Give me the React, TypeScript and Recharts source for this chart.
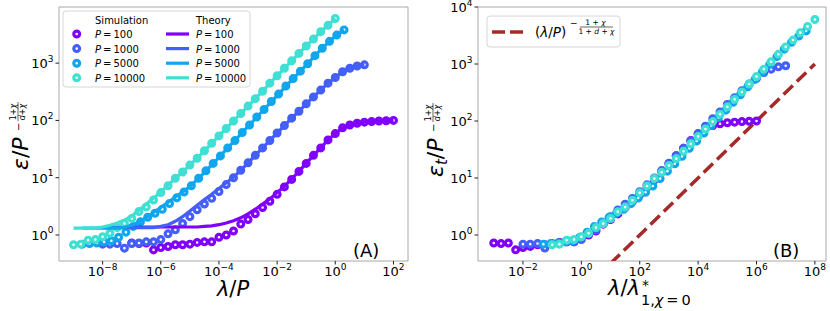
import { ComposedChart, Scatter, Line, XAxis, YAxis, ReferenceArea } from 'recharts';

const FONT = '"DejaVu Sans", sans-serif';

// shared ridge-parameter grid (lambda), 4 points per decade
const lambdaGrid = [
  1e-5, 1.778e-5, 3.162e-5, 5.623e-5, 1e-4, 1.778e-4, 3.162e-4, 5.623e-4,
  1e-3, 1.778e-3, 3.162e-3, 5.623e-3, 1e-2, 1.778e-2, 3.162e-2, 5.623e-2,
  0.1, 0.1778, 0.3162, 0.5623, 1, 1.778, 3.162, 5.623,
  10, 17.78, 31.62, 56.23, 100, 177.8, 316.2, 562.3,
  1000, 1778, 3162, 5623, 10000,
];

const sampleSizes = [100, 1000, 5000, 10000];
const sizeLabels = ['100', '1000', '5000', '10000'];
const colors = ['#8000ff', '#435ef9', '#10a6ee', '#3fe0d4'];

// log10 of the simulated error
const logSimP100 = [
  -0.14, -0.15, -0.14, -0.26, -0.22, -0.2, -0.17, -0.17, -0.16, -0.13, -0.12, -0.12,
  -0.04, 0.0, 0.07, 0.19, 0.27, 0.37, 0.48, 0.59, 0.71, 0.84, 0.97, 1.11,
  1.25, 1.39, 1.52, 1.66, 1.77, 1.87, 1.92, 1.95, 1.97, 1.98, 1.99, 1.995, 2.0,
];
const logSimP1000 = [
  -0.16, -0.16, -0.15, -0.23, -0.15, -0.14, -0.12, -0.12, -0.08, 0.02, 0.09, 0.2,
  0.32, 0.44, 0.54, 0.64, 0.76, 0.88, 1.0, 1.13, 1.26, 1.39, 1.52, 1.65,
  1.78, 1.91, 2.04, 2.16, 2.29, 2.41, 2.53, 2.65, 2.75, 2.85, 2.91, 2.95, 2.97,
];
const logSimP5000 = [
  -0.16, -0.15, -0.14, -0.12, -0.1, -0.04, 0.05, 0.15, 0.23, 0.31, 0.38, 0.45,
  0.55, 0.65, 0.75, 0.86, 0.99, 1.12, 1.25, 1.38, 1.52, 1.65, 1.79, 1.92,
  2.06, 2.19, 2.33, 2.46, 2.6, 2.73, 2.86, 2.99, 3.13, 3.26, 3.38, 3.49, 3.58,
];
const logSimP10000 = [
  -0.17, -0.16, -0.09, -0.08, -0.03, 0.03, 0.13, 0.2, 0.29, 0.41, 0.49, 0.61,
  0.74, 0.86, 0.99, 1.1, 1.22, 1.34, 1.47, 1.6, 1.73, 1.86, 1.99, 2.12,
  2.25, 2.38, 2.51, 2.65, 2.78, 2.91, 3.04, 3.17, 3.3, 3.42, 3.55, 3.66, 3.78,
];

// log10 of the theory curves
const logTheoryP100 = [
  0.14, 0.14, 0.14, 0.14, 0.14, 0.14, 0.14, 0.14, 0.14, 0.14, 0.15, 0.16,
  0.18, 0.21, 0.25, 0.3, 0.37, 0.45, 0.54, 0.63, 0.74, 0.85, 0.98, 1.11,
  1.25, 1.39, 1.52, 1.66, 1.77, 1.87, 1.92, 1.95, 1.97, 1.98, 1.99, 1.995, 2.0,
];
const logTheoryP1000 = [
  0.13, 0.13, 0.13, 0.13, 0.13, 0.13, 0.13, 0.13, 0.15, 0.18, 0.24, 0.32,
  0.42, 0.52, 0.62, 0.71, 0.81, 0.91, 1.01, 1.13, 1.26, 1.39, 1.52, 1.65,
  1.78, 1.91, 2.04, 2.16, 2.29, 2.41, 2.53, 2.65, 2.75, 2.85, 2.91, 2.95, 2.97,
];
const logTheoryP5000 = [
  0.12, 0.12, 0.12, 0.12, 0.12, 0.12, 0.14, 0.18, 0.24, 0.32, 0.41, 0.5,
  0.59, 0.68, 0.77, 0.87, 0.99, 1.12, 1.25, 1.38, 1.52, 1.65, 1.79, 1.92,
  2.06, 2.19, 2.33, 2.46, 2.6, 2.73, 2.86, 2.99, 3.13, 3.26, 3.38, 3.49, 3.58,
];
const logTheoryP10000 = [
  0.12, 0.12, 0.12, 0.12, 0.14, 0.17, 0.21, 0.26, 0.33, 0.43, 0.54, 0.64,
  0.75, 0.87, 0.99, 1.1, 1.22, 1.34, 1.47, 1.6, 1.73, 1.86, 1.99, 2.12,
  2.25, 2.38, 2.51, 2.65, 2.78, 2.91, 3.04, 3.17, 3.3, 3.42, 3.55, 3.66, 3.78,
];

const logSim = [logSimP100, logSimP1000, logSimP5000, logSimP10000];
const logTheory = [logTheoryP100, logTheoryP1000, logTheoryP5000, logTheoryP10000];

// power-law guide in panel B
const guideX = [10, 1e8];
const guideY = [0.3162, 1000];

const ticksXA = [1e-8, 1e-6, 1e-4, 1e-2, 1, 1e2];
const ticksYA = [1, 10, 100, 1000];
const ticksXB = [1e-2, 1, 1e2, 1e4, 1e6, 1e8];
const ticksYB = [1, 10, 100, 1000, 10000];

const domXA: [number, number] = [3.162e-10, 316.2];
const domYA: [number, number] = [0.3516, 9550];
const domXB: [number, number] = [2.884e-4, 2.4e8];
const domYB: [number, number] = [0.35, 10000];

const series = sampleSizes.map((p, i) => ({
  p,
  color: colors[i],
  simA: lambdaGrid.map((l, k) => ({ x: l / p, y: 10 ** logSim[i][k] })),
  theoryA: lambdaGrid.map((l, k) => ({ x: l / p, y: 10 ** logTheory[i][k] })),
  simB: lambdaGrid.map((l, k) => ({ x: l * p, y: 10 ** logSim[i][k] })),
}));

const guide = guideX.map((x, i) => ({ x, y: guideY[i] }));

function expText(v: number) {
  const e = Math.round(Math.log10(v));
  return e < 0 ? `\u2212${-e}` : `${e}`;
}

function XTick(props: any) {
  const { x, y, payload } = props;
  return (
    <text x={x} y={y + 9.5} textAnchor="middle" fontSize={13} fontFamily={FONT} fill="#000">
      10<tspan dy={-6.5} fontSize={9}>{expText(payload.value)}</tspan>
    </text>
  );
}

function YTick(props: any) {
  const { x, y, payload } = props;
  return (
    <text x={x} y={y + 5} textAnchor="end" fontSize={13} fontFamily={FONT} fill="#000">
      10<tspan dy={-6.5} fontSize={9}>{expText(payload.value)}</tspan>
    </text>
  );
}

function ring(color: string) {
  return (p: any) => (
    <circle cx={p.cx} cy={p.cy} r={2.9} fill="#fff" stroke={color} strokeWidth={3.2} />
  );
}

const noMarker = () => <g />;

function PanelA() {
  return (
    <ComposedChart width={415} height={311} margin={{ top: 7, right: 7, bottom: 0, left: 9 }}>
      <XAxis dataKey="x" type="number" scale="log" domain={domXA} allowDataOverflow
        ticks={ticksXA} interval={0} height={50} tickSize={3.5}
        axisLine={false} tickLine={{ stroke: '#222' }} tick={<XTick />} />
      <YAxis dataKey="y" type="number" scale="log" domain={domYA} allowDataOverflow
        ticks={ticksYA} interval={0} width={50} tickSize={3.5}
        axisLine={false} tickLine={{ stroke: '#222' }} tick={<YTick />} />
      <ReferenceArea x1={domXA[0]} x2={domXA[1]} y1={domYA[0]} y2={domYA[1]}
        fill="none" stroke="#a8a8a8" ifOverflow="visible" />
      {series.map((s) => (
        <Scatter key={`s${s.p}`} data={s.simA} dataKey="y" shape={ring(s.color)}
          isAnimationActive={false} />
      ))}
      {/* theory curves drawn on top of the rings */}
      {series.map((s) => (
        <Scatter key={`t${s.p}`} data={s.theoryA} dataKey="y" shape={noMarker}
          line={{ stroke: s.color, strokeWidth: 3.2, fill: 'none' }} lineType="joint"
          isAnimationActive={false} />
      ))}
    </ComposedChart>
  );
}

function PanelB() {
  return (
    <ComposedChart width={415} height={311} margin={{ top: 7, right: 4, bottom: 0, left: 13 }}>
      <XAxis dataKey="x" type="number" scale="log" domain={domXB} allowDataOverflow
        ticks={ticksXB} interval={0} height={50} tickSize={3.5}
        axisLine={false} tickLine={{ stroke: '#222' }} tick={<XTick />} />
      <YAxis dataKey="y" type="number" scale="log" domain={domYB} allowDataOverflow
        ticks={ticksYB} interval={0} width={50} tickSize={3.5}
        axisLine={false} tickLine={{ stroke: '#222' }} tick={<YTick />} />
      <ReferenceArea x1={domXB[0]} x2={domXB[1]} y1={domYB[0]} y2={domYB[1]}
        fill="none" stroke="#a8a8a8" ifOverflow="visible" />
      {series.map((s) => (
        <Scatter key={`b${s.p}`} data={s.simB} dataKey="y" shape={ring(s.color)}
          isAnimationActive={false} />
      ))}
      <Line data={guide} dataKey="y" type="linear" stroke="#a52a2a" strokeWidth={3.5}
        strokeDasharray="13 5.6" dot={false} isAnimationActive={false} />
    </ComposedChart>
  );
}

function Overlay() {
  const rows = [38, 52.6, 67.2, 81.8];
  return (
    <svg width={830} height={311} style={{ position: 'absolute', left: 0, top: 0, pointerEvents: 'none' }}
      fontFamily={FONT}>
      {/* legend A */}
      <rect x={63} y={11} width={187} height={76} rx={3} fill="#fff" fillOpacity={0.8} stroke="#d6d6d6" />
      <text x={95} y={24} fontSize={10}>Simulation</text>
      <text x={196} y={24} fontSize={10}>Theory</text>
      {rows.map((by, i) => (
        <g key={i}>
          <circle cx={76.7} cy={by - 4} r={2.9} fill="#fff" stroke={colors[i]} strokeWidth={3.2} />
          <text x={95} y={by} fontSize={10}>
            <tspan fontStyle="italic">P</tspan>{'\u2009=\u2009'}{sizeLabels[i]}
          </text>
          <line x1={166} x2={189} y1={by - 4} y2={by - 4} stroke={colors[i]} strokeWidth={3.2} />
          <text x={196} y={by} fontSize={10}>
            <tspan fontStyle="italic">P</tspan>{'\u2009=\u2009'}{sizeLabels[i]}
          </text>
        </g>
      ))}

      {/* legend B */}
      <rect x={487} y={16} width={133} height={31} rx={3} fill="#fff" fillOpacity={0.8} stroke="#d6d6d6" />
      <line x1={492} x2={523} y1={32} y2={32} stroke="#a52a2a" strokeWidth={3.5} strokeDasharray="13 5" />
      <text x={535} y={36.5} fontSize={13.5}>
        (<tspan fontStyle="italic">λ</tspan>/<tspan fontStyle="italic">P</tspan>)
      </text>
      <text x={570} y={25.5} fontSize={9}>−</text>
      <text x={595.5} y={25} fontSize={7.5} textAnchor="middle">
        1 + <tspan fontStyle="italic">χ</tspan>
      </text>
      <line x1={580} x2={613} y1={27} y2={27} stroke="#000" strokeWidth={0.6} />
      <text x={596.5} y={33.5} fontSize={7.5} textAnchor="middle">
        1 + <tspan fontStyle="italic">d</tspan> + <tspan fontStyle="italic">χ</tspan>
      </text>

      {/* axis titles A */}
      <text x={233} y={296} fontSize={21} textAnchor="middle">
        <tspan fontStyle="italic">λ</tspan>/<tspan fontStyle="italic">P</tspan>
      </text>
      <g transform="translate(28,170) rotate(-90)">
        <text x={0} y={0} fontSize={22}>
          <tspan fontStyle="italic">ε</tspan>/<tspan fontStyle="italic">P</tspan>
        </text>
        <text x={39} y={-6.5} fontSize={10}>−</text>
        <text x={58} y={-12} fontSize={8} textAnchor="middle">
          1+<tspan fontStyle="italic">χ</tspan>
        </text>
        <line x1={49} x2={68} y1={-10} y2={-10} stroke="#000" strokeWidth={0.6} />
        <text x={58} y={-3.5} fontSize={8} textAnchor="middle">
          <tspan fontStyle="italic">d</tspan>+<tspan fontStyle="italic">χ</tspan>
        </text>
      </g>
      <text x={353} y={257} fontSize={18}>(A)</text>

      {/* axis titles B */}
      <text x={608} y={295} fontSize={21}>
        <tspan fontStyle="italic">λ</tspan>/<tspan fontStyle="italic">λ</tspan>
      </text>
      <text x={642} y={290} fontSize={14}>*</text>
      <text x={641} y={305} fontSize={14.5}>
        1,<tspan fontStyle="italic">χ</tspan>{'\u2009=\u2009'}0
      </text>
      <g transform="translate(443,177) rotate(-90)">
        <text x={0} y={0} fontSize={22}>
          <tspan fontStyle="italic">ε</tspan>
          <tspan fontStyle="italic" fontSize={15} dy={4}>t</tspan>
          <tspan dy={-4}>/</tspan>
          <tspan fontStyle="italic">P</tspan>
        </text>
        <text x={45} y={-6.5} fontSize={10}>−</text>
        <text x={64} y={-12} fontSize={8} textAnchor="middle">
          1+<tspan fontStyle="italic">χ</tspan>
        </text>
        <line x1={55} x2={74} y1={-10} y2={-10} stroke="#000" strokeWidth={0.6} />
        <text x={64} y={-3.5} fontSize={8} textAnchor="middle">
          <tspan fontStyle="italic">d</tspan>+<tspan fontStyle="italic">χ</tspan>
        </text>
      </g>
      <text x={773} y={257} fontSize={18}>(B)</text>
    </svg>
  );
}

export default function App() {
  return (
    <div style={{ position: 'absolute', left: 0, top: 0, width: 830, height: 311, background: '#fff' }}>
      <div style={{ position: 'absolute', left: 0, top: 0 }}>
        <PanelA />
      </div>
      <div style={{ position: 'absolute', left: 415, top: 0 }}>
        <PanelB />
      </div>
      <Overlay />
    </div>
  );
}
